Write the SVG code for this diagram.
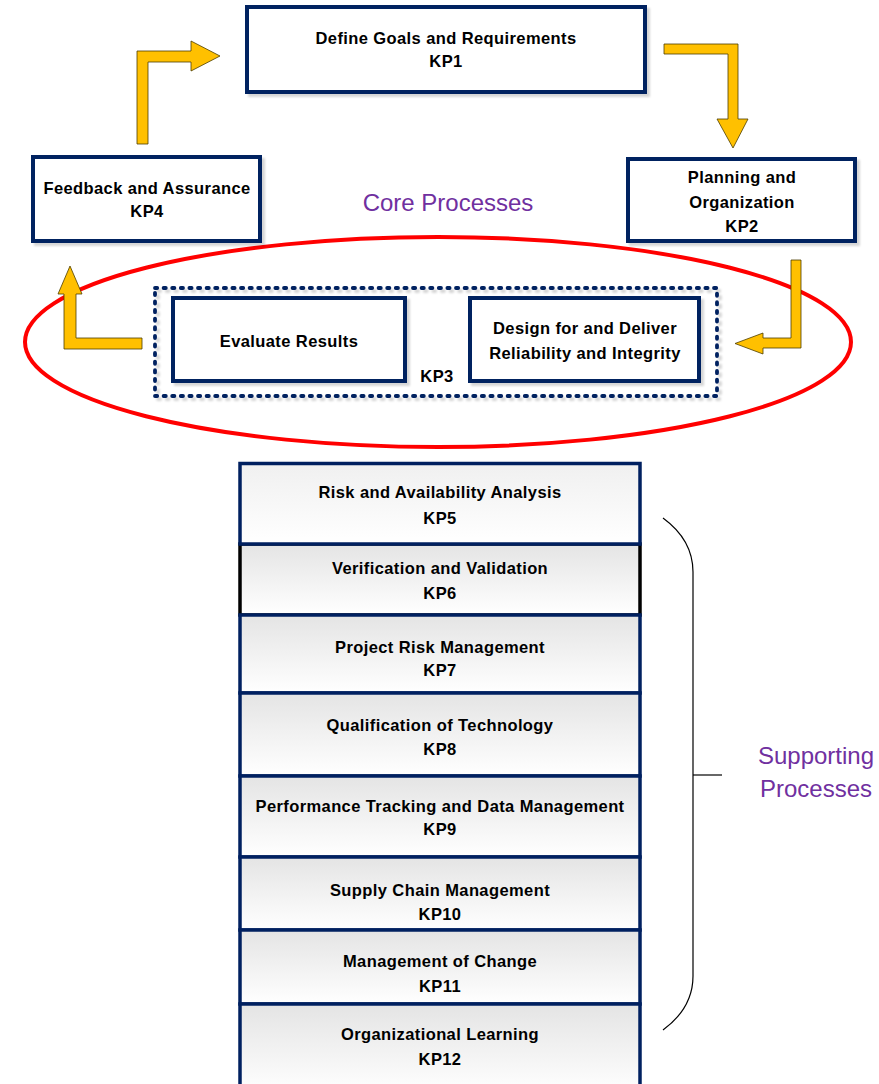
<svg xmlns="http://www.w3.org/2000/svg" width="879" height="1084" viewBox="0 0 879 1084">
  <defs>
    <linearGradient id="rowFill" x1="0" y1="0" x2="0" y2="1">
      <stop offset="0" stop-color="#e4e4e4"/>
      <stop offset="1" stop-color="#ffffff"/>
    </linearGradient>
    <linearGradient id="rowFillLight" x1="0" y1="0" x2="0" y2="1">
      <stop offset="0" stop-color="#f0f0f0"/>
      <stop offset="1" stop-color="#ffffff"/>
    </linearGradient>
    <filter id="shadow" x="-5%" y="-5%" width="115%" height="125%">
      <feDropShadow dx="3" dy="3" stdDeviation="1" flood-color="#000" flood-opacity="0.16"/>
    </filter>
  </defs>
  <style>
    .box { fill: #fff; stroke: #002060; stroke-width: 4; filter: url(#shadow); }
    .group { fill: none; stroke: #002060; stroke-width: 3.8; stroke-dasharray: 2.2 6.4; stroke-linecap: round; filter: url(#shadow); }
    .row { fill: url(#rowFill); stroke: #002060; stroke-width: 3.5; }
    .lbl { font-family: "Liberation Sans", Arial, sans-serif; font-weight: bold; font-size: 16.5px; letter-spacing: 0.4px; fill: #000; text-anchor: middle; }
    .title { font-family: "Liberation Sans", Arial, sans-serif; font-size: 24px; fill: #7030A0; text-anchor: middle; }
    .arrow { fill: #FFC000; stroke: #4d3d00; stroke-width: 0.8; }
    .brace { fill: none; stroke: #000; stroke-width: 1.2; }
  </style>

  <rect width="879" height="1084" fill="#fff"/>

  <!-- core process ring -->
  <ellipse id="core-ring" cx="438" cy="342" rx="413" ry="105" fill="none" stroke="#ff0000" stroke-width="4"/>
  <text class="title" x="448" y="211">Core Processes</text>

  <!-- core process nodes -->
  <g id="kp1">
    <rect class="box" x="247" y="7" width="398" height="85"/>
    <text class="lbl" x="446" y="44">Define Goals and Requirements</text>
    <text class="lbl" x="446" y="67">KP1</text>
  </g>
  <g id="kp2">
    <rect class="box" x="628" y="159" width="227" height="82"/>
    <text class="lbl" x="742" y="183">Planning and</text>
    <text class="lbl" x="742" y="208">Organization</text>
    <text class="lbl" x="742" y="232">KP2</text>
  </g>
  <g id="kp4">
    <rect class="box" x="33" y="157" width="227" height="84"/>
    <text class="lbl" x="147" y="194">Feedback and Assurance</text>
    <text class="lbl" x="147" y="217">KP4</text>
  </g>
  <g id="kp3">
    <rect class="group" x="155" y="288" width="562" height="108"/>
    <text class="lbl" x="437" y="382">KP3</text>
    <g id="kp3-evaluate">
      <rect class="box" x="173" y="298" width="232" height="83"/>
      <text class="lbl" x="289" y="347">Evaluate Results</text>
    </g>
    <g id="kp3-design">
      <rect class="box" x="470" y="298" width="229" height="83"/>
      <text class="lbl" x="585" y="334">Design for and Deliver</text>
      <text class="lbl" x="585" y="359">Reliability and Integrity</text>
    </g>
  </g>

  <!-- cycle arrows -->
  <g id="connectors">
    <polygon class="arrow" points="137,144 137,51 191,51 191,41 220,56 191,71 191,62 148,62 148,144"/>
    <polygon class="arrow" points="664,44 738,44 738,119 748,119 733,148 717,119 728,119 728,54 664,54"/>
    <polygon class="arrow" points="791,260 801,260 801,348 763,348 763,354 735,343.5 763,333 763,338 791,338"/>
    <polygon class="arrow" points="142,338 142,349 64,349 64,294 58,294 70,266 82,294 76,294 76,338"/>
  </g>

  <!-- supporting process stack -->
  <g id="kp6">
    <rect x="240" y="544" width="400" height="71" fill="url(#rowFill)" stroke="#000" stroke-width="3.5"/>
    <text class="lbl" x="440" y="574">Verification and Validation</text>
    <text class="lbl" x="440" y="599">KP6</text>
  </g>
  <g id="kp5">
    <rect class="row" x="240" y="463.5" width="400" height="80.5" style="fill:url(#rowFillLight)"/>
    <text class="lbl" x="440" y="498">Risk and Availability Analysis</text>
    <text class="lbl" x="440" y="524">KP5</text>
  </g>
  <g id="kp7">
    <rect class="row" x="240" y="615" width="400" height="78"/>
    <text class="lbl" x="440" y="653">Project Risk Management</text>
    <text class="lbl" x="440" y="676">KP7</text>
  </g>
  <g id="kp8">
    <rect class="row" x="240" y="693" width="400" height="83"/>
    <text class="lbl" x="440" y="731">Qualification of Technology</text>
    <text class="lbl" x="440" y="755">KP8</text>
  </g>
  <g id="kp9">
    <rect class="row" x="240" y="776" width="400" height="81"/>
    <text class="lbl" x="440" y="812">Performance Tracking and Data Management</text>
    <text class="lbl" x="440" y="835">KP9</text>
  </g>
  <g id="kp10">
    <rect class="row" x="240" y="857" width="400" height="73"/>
    <text class="lbl" x="440" y="896">Supply Chain Management</text>
    <text class="lbl" x="440" y="920">KP10</text>
  </g>
  <g id="kp11">
    <rect class="row" x="240" y="930" width="400" height="74"/>
    <text class="lbl" x="440" y="967">Management of Change</text>
    <text class="lbl" x="440" y="992">KP11</text>
  </g>
  <g id="kp12">
    <rect class="row" x="240" y="1004" width="400" height="90"/>
    <text class="lbl" x="440" y="1040">Organizational Learning</text>
    <text class="lbl" x="440" y="1065">KP12</text>
  </g>

  <!-- bracket for supporting processes -->
  <g id="support-brace">
    <path class="brace" d="M663,518 Q693,540 693,572 L693,976 Q693,1008 663,1030"/>
    <line class="brace" x1="693" y1="775" x2="722" y2="775"/>
    <text class="title" x="816" y="764">Supporting</text>
    <text class="title" x="816" y="797">Processes</text>
  </g>
</svg>
